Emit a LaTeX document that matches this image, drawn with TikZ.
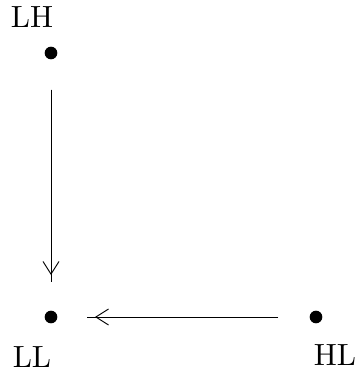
\documentclass[tikz,border=0pt]{standalone}
\usepackage{fontspec}
\usetikzlibrary{arrows.meta}
\begin{document}
\begin{tikzpicture}[x=0.75pt,y=-0.75pt,
  dotnode/.style={circle,fill=black,inner sep=0pt,minimum size=9.5pt},
  lbl/.style={inner sep=0pt,scale=2.3},
  conn/.style={line width=0.7pt},
  barb/.style={conn,-{Straight Barb[length=9.5pt,width=12pt]}}]
\useasboundingbox (0,0) rectangle (355,372);
\node[dotnode] (lh) at (51,53) {};
\node[dotnode] (ll) at (51,317) {};
\node[dotnode] (hl) at (316,317) {};
\node[lbl] (tlh) at (32,17) {LH};
\node[lbl] (tll) at (32,357) {LL};
\node[lbl] (thl) at (335,355) {HL};
\draw[conn,shorten <=27.5pt,shorten >=26pt] (lh.center) -- (ll.center);
\draw[barb,shorten <=27.5pt,shorten >=31.5pt] (lh.center) -- (ll.center);
\draw[conn,shorten <=28.5pt,shorten >=27pt] (hl.center) -- (ll.center);
\draw[barb,shorten <=28.5pt,shorten >=33pt] (hl.center) -- (ll.center);
\end{tikzpicture}
\end{document}
